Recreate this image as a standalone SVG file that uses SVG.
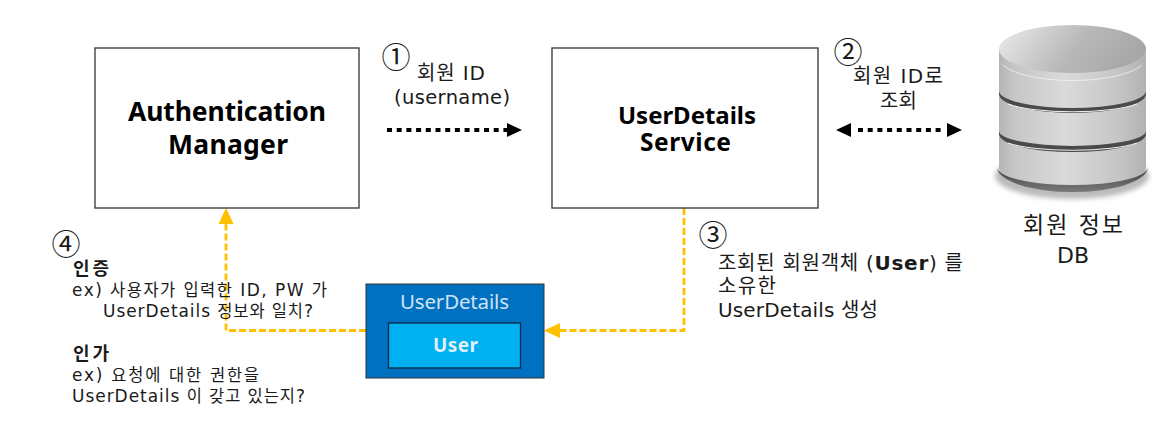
<svg xmlns="http://www.w3.org/2000/svg" width="1165" height="421" viewBox="0 0 1165 421">
<style>
text{font-family:"DejaVu Sans","Noto Sans CJK KR",sans-serif;fill:#1a1a1a}
.box{fill:#fff;stroke:#333;stroke-width:1.3}
.title{font-family:"Noto Sans","Noto Sans CJK KR",sans-serif;font-weight:700;fill:#000}
.m{font-size:20px}
.s{font-size:17px}
.l{font-size:20px}
.h{font-size:16.5px}
.n{font-family:"Noto Sans CJK KR",sans-serif;font-size:29px;text-anchor:middle}
.k{font-family:"Noto Sans CJK KR","DejaVu Sans",sans-serif;font-weight:700;font-size:18px}
.dot{fill:none;stroke:#000;stroke-width:4;stroke-dasharray:5 4.7}
.dash{fill:none;stroke:#ffc000;stroke-width:2.8;stroke-dasharray:7 3}
.yh{fill:#ffc000}
.band{fill:#4a4a4a}
.hl{fill:none;stroke:#f2f2f2;stroke-width:1}
</style>
<defs>
<linearGradient id="side" x1="0" x2="1" y1="0" y2="0">
<stop offset="0" stop-color="#b4b4b4"/><stop offset=".1" stop-color="#c6c6c6"/><stop offset=".45" stop-color="#dadada"/><stop offset=".8" stop-color="#c6c6c6"/><stop offset="1" stop-color="#b2b2b2"/>
</linearGradient>
<linearGradient id="top" x1="0" x2="1" y1="0" y2=".25">
<stop offset="0" stop-color="#ececec"/><stop offset=".6" stop-color="#b8b8b8"/><stop offset="1" stop-color="#a8a8a8"/>
</linearGradient>
<linearGradient id="bot" x1="0" x2="0" y1="0" y2="1">
<stop offset="0" stop-color="#3f3f3f"/><stop offset="1" stop-color="#7a7a7a"/>
</linearGradient>
<filter id="bl" x="-10%" y="-50%" width="120%" height="200%"><feGaussianBlur stdDeviation="2.5"/></filter>
</defs>

<g id="connectors">
<path class="dot" d="M387 130H507"/>
<path d="M507 123L522 130L507 137Z"/>
<path class="dot" d="M858 130H945"/>
<path d="M851 123L836 130L851 137Z"/>
<path d="M947 123L962 130L947 137Z"/>
<path class="dash" d="M684 208V330.5H558"/>
<path class="yh" d="M544 330.5L560 323V338Z"/>
<path class="dash" d="M366 330.5H226V222"/>
<path class="yh" d="M226 208L233.5 224H218.5Z"/>
</g>

<g id="auth-manager">
<rect class="box" x="95" y="48" width="264" height="160"/>
<text class="title" x="128" y="121" font-size="26.5" textLength="198">Authentication</text>
<text class="title" x="168" y="154" font-size="26.5" textLength="120">Manager</text>
</g>

<g id="user-details-service">
<rect class="box" x="552" y="48" width="266" height="160"/>
<text class="title" x="618" y="124" font-size="24" textLength="138">UserDetails</text>
<text class="title" x="640" y="151" font-size="24.5" textLength="91">Service</text>
</g>

<g id="step1">
<text class="n" x="396" y="68">①</text>
<text class="m" x="417" y="80" textLength="68">회원 ID</text>
<text class="m" x="394" y="104" textLength="116" style="font-size:19.5px">(username)</text>
</g>

<g id="step2">
<text class="n" x="848" y="63">②</text>
<text class="m" x="853" y="83" textLength="90">회원 ID로</text>
<text class="m" x="880" y="108" textLength="37">조회</text>
</g>

<g id="db">
<ellipse cx="1072" cy="176" rx="77" ry="23" fill="#777" opacity=".5" filter="url(#bl)"/>
<path d="M999 49V168A73.5 22 0 0 0 1146 168V49Z" fill="url(#side)"/>
<path d="M997 167A75 18 0 0 0 1148 167A75 25 0 0 1 1072.5 192A75 25 0 0 1 997 167Z" fill="url(#bot)"/>
<path class="hl" d="M1003 65A73.5 23 0 0 0 1142 65" stroke-opacity=".8"/>
<ellipse cx="1072.5" cy="49" rx="73.5" ry="24" fill="url(#top)"/>
<path class="band" d="M999 91A73.5 17 0 0 0 1146 91V94A73.5 19 0 0 1 1072.5 113A73.5 19 0 0 1 999 94Z"/>
<path class="hl" d="M1008 104A73.5 15 0 0 0 1137 104"/>
<path class="band" d="M999 131A73.5 15 0 0 0 1146 131V134A73.5 18 0 0 1 1072.5 152A73.5 18 0 0 1 999 134Z"/>
<path class="hl" d="M1008 143A73.5 14 0 0 0 1137 143"/>
<text x="1023" y="233" font-size="23" textLength="100">회원 정보</text>
<text x="1057" y="263" font-size="22" textLength="32">DB</text>
</g>

<g id="step3">
<text class="n" x="713" y="246">③</text>
<text class="l" x="718" y="270" textLength="245">조회된 회원객체 (<tspan font-weight="700">User</tspan>) 를</text>
<text class="l" x="718" y="293" textLength="58">소유한</text>
<text class="l" x="718" y="317" textLength="160">UserDetails 생성</text>
</g>

<g id="user-details">
<rect x="366" y="284" width="178" height="94" fill="#0070c0" stroke="#333" stroke-width="1"/>
<text x="400" y="309" font-size="20.5" textLength="109" style="font-family:'Noto Sans',sans-serif;fill:#cfe3f5">UserDetails</text>
<g id="user">
<rect x="388.5" y="323" width="132" height="45" fill="#00b0f0" stroke="#0c2a45" stroke-width="1.3"/>
<text x="433" y="352" font-size="19" font-weight="700" textLength="45" style="font-family:'Noto Sans',sans-serif;fill:#dff2fb">User</text>
</g>
</g>

<g id="step4">
<text class="n" x="66" y="255">④</text>
<text class="k" x="73" y="275" textLength="36">인증</text>
<text class="s" x="72" y="296" textLength="255">ex) <tspan class="h">사용자가 입력한</tspan> ID, PW <tspan class="h">가</tspan></text>
<text class="s" x="103" y="317" textLength="210">UserDetails <tspan class="h">정보와 일치</tspan>?</text>
<text class="k" x="73" y="360" textLength="36">인가</text>
<text class="s" x="72" y="381" textLength="187">ex) <tspan class="h">요청에 대한 권한을</tspan></text>
<text class="s" x="72" y="402" textLength="233">UserDetails <tspan class="h">이 갖고 있는지</tspan>?</text>
</g>
</svg>
